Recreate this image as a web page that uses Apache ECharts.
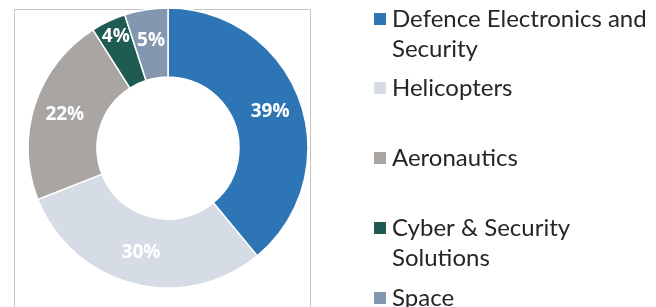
<!DOCTYPE html>
<html>
<head>
<meta charset="utf-8">
<script src="https://cdn.jsdelivr.net/npm/echarts@6/dist/echarts.min.js"></script>
<style>
  html, body { margin: 0; padding: 0; background: #fff; }
  #chart { width: 656px; height: 307px; }
</style>
</head>
<body>
<div id="chart"></div>
<script>
// 业务板块占比
const categories = ['Defence Electronics and Security', 'Helicopters', 'Aeronautics', 'Cyber & Security Solutions', 'Space']
const shares = [39, 30, 22, 4, 5]
// legend text as wrapped in the original
const legendLabels = ['Defence Electronics and\nSecurity', 'Helicopters', 'Aeronautics', 'Cyber & Security\nSolutions', 'Space']
const colors = ['#2e75b6', '#d6dce5', '#a8a5a3', '#1f5a53', '#8497b0']

const chart = echarts.init(document.getElementById('chart'))

// one legend block per item so rows keep the even spacing of the source
// two-line items get a blank first line so the marker sits on the first text line
const legendCenters = [19, 88, 158, 228, 298]
const legends = categories.map((name, i) => {
  const twoLine = legendLabels[i].includes('\n')
  return {
    orient: 'vertical',
    left: 372,
    top: legendCenters[i] - (twoLine ? 45 : 15),
    padding: 0,
    itemWidth: 14,
    itemHeight: 14,
    itemGap: 0,
    icon: 'rect',
    selectedMode: false,
    data: [name],
    formatter: () => (twoLine ? ' \n' : '') + legendLabels[i],
    textStyle: {
      fontFamily: 'Lato',
      fontSize: 24,
      lineHeight: 30,
      color: '#262626'
    }
  }
})

const data = categories.map((name, i) => {
  const item = { name, value: shares[i] }
  // small slice: label pushed up and out like the source
  if (i === 3) item.label = { offset: [-6, -13] }
  return item
})

chart.setOption({
  animation: false,
  color: colors,
  legend: legends,
  graphic: [{
    type: 'rect',
    left: 12, top: 7,
    shape: { width: 296, height: 298 },
    style: { fill: 'none', stroke: '#c4c4c4', lineWidth: 1 },
    silent: true
  }],
  series: [{
    type: 'pie',
    center: [168, 148],
    radius: [71, 140],
    startAngle: 90,
    clockwise: true,
    avoidLabelOverlap: false,
    itemStyle: { borderColor: '#fff', borderWidth: 1.5 },
    label: {
      position: 'inside',
      formatter: '{c}%',
      color: '#fff',
      fontFamily: 'Open Sans',
      fontWeight: 'bold',
      fontSize: 19
    },
    labelLine: { show: false },
    emphasis: { disabled: true },
    data
  }]
})
</script>
</body>
</html>
